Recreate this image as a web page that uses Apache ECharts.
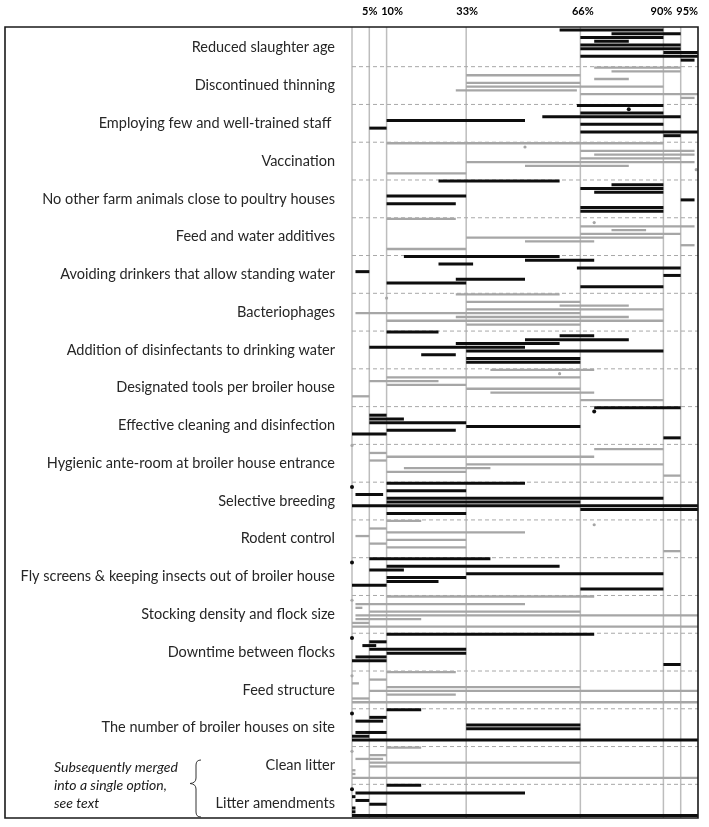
<!DOCTYPE html>
<html><head><meta charset="utf-8">
<script src="https://cdn.jsdelivr.net/npm/echarts@6/dist/echarts.min.js"></script>
<style>html,body{margin:0;padding:0;background:#fff}#c{width:709px;height:827px}</style>
</head><body><div id="c"></div>
<script>
// ---- data ----
const categories = [
  'Reduced slaughter age',
  'Discontinued thinning',
  'Employing few and well-trained staff ',
  'Vaccination',
  'No other farm animals close to poultry houses',
  'Feed and water additives',
  'Avoiding drinkers that allow standing water',
  'Bacteriophages',
  'Addition of disinfectants to drinking water',
  'Designated tools per broiler house',
  'Effective cleaning and disinfection',
  'Hygienic ante-room at broiler house entrance',
  'Selective breeding',
  'Rodent control',
  'Fly screens & keeping insects out of broiler house',
  'Stocking density and flock size',
  'Downtime between flocks',
  'Feed structure',
  'The number of broiler houses on site',
  'Clean litter',
  'Litter amendments'
];
// one [low, high] range (in %) per expert; low === high is a point estimate
const reducedSlaughterAge   = [[60,90],[75,95],[66,90],[70,80],[66,95],[66,95],[90,100],[66,100],[95,99]];
const discontinuedThinning  = [[70,95],[75,95],[33,66],[70,80],[33,66],[33,90],[30,65],[66,100],[95,99]];
const employingStaff        = [[65,90],[80,80],[66,90],[55,95],[10,50],[66,90],[5,10],[66,100],[90,95]];
const vaccination           = [[10,90],[50,50],[66,99],[70,99],[66,95],[33,99],[50,80],[99.5,99.5],[10,33]];
const noOtherFarmAnimals    = [[25,60],[75,90],[66,90],[70,90],[10,33],[95,99],[10,30],[66,90],[66,90]];
const feedWaterAdditives    = [[10,30],[70,70],[66,99],[75,85],[66,95],[33,90],[50,70],[95,99],[10,33]];
const avoidingDrinkers      = [[15,60],[50,70],[25,35],[65,95],[1,5],[90,95],[30,50],[10,33],[66,90]];
const bacteriophages        = [[30,60],[10,10],[33,66],[60,80],[33,90],[1,66],[30,80],[10,90],[33,66]];
const disinfectantsWater    = [[10,25],[60,70],[50,80],[30,60],[5,50],[33,90],[20,30],[33,66],[33,66]];
const designatedTools       = [[40,70],[60,60],[10,66],[5,25],[10,33],[33,66],[40,70],[0,5],[66,90]];
const cleaningDisinfection  = [[70,95],[70,70],[5,10],[5,15],[5,33],[33,66],[10,30],[0,10],[90,95]];
const hygienicAnteRoom      = [[0,0],[70,90],[5,10],[10,70],[5,10],[33,90],[15,40],[10,33],[90,95]];
const selectiveBreeding     = [[10,50],[0,0],[10,33],[1,9],[10,90],[10,66],[0,100],[66,100],[10,33]];
const rodentControl         = [[10,20],[70,70],[5,10],[10,50],[1,5],[10,33],[5,10],[10,33],[90,95]];
const flyScreens            = [[5,40],[0,0],[10,60],[5,15],[33,90],[10,33],[10,25],[0,10],[66,90]];
const stockingDensity       = [[10,70],[0,0],[1,50],[1,3],[5,66],[1,100],[1,20],[0,5],[0,100]];
const downtimeBetweenFlocks = [[10,70],[0,0],[5,10],[3,7],[5,33],[10,33],[1,10],[0,10],[90,95]];
const feedStructure         = [[10,30],[0,0],[5,10],[0,2],[10,66],[5,100],[10,30],[0,5],[0,100]];
const numberOfHouses        = [[10,20],[0,0],[5,10],[1,9],[33,66],[33,66],[1,10],[0,5],[0,100]];
const cleanLitter           = [[10,20],[0,0],[5,10],[1,9],[5,66],[5,10],[0,1],[0,1],[0,100]];
const litterAmendments      = [[10,20],[0,0],[1,50],[0,1],[1,5],[5,10],[0,1],[0,1],[0,100]];

const tickValues = [5, 10, 33, 66, 90, 95];
const tickLabels = ['5%', '10%', '33%', '66%', '90%', '95%'];
const refLines   = [0, 5, 10, 33, 66, 90, 95];
const noteLines  = ['Subsequently merged', 'into a single option,', 'see text'];

// ---- layout / style (not data) ----
const rows = [reducedSlaughterAge, discontinuedThinning, employingStaff, vaccination,
  noOtherFarmAnimals, feedWaterAdditives, avoidingDrinkers, bacteriophages, disinfectantsWater,
  designatedTools, cleaningDisinfection, hygienicAnteRoom, selectiveBreeding, rodentControl,
  flyScreens, stockingDensity, downtimeBetweenFlocks, feedStructure, numberOfHouses,
  cleanLitter, litterAmendments];
const SLOTS = 10;
const SLOT_OFFSET = 0.27;
const labelShift = [0.5, 5.5, 1, 2.5, -2, 6.5];
const BLACK = '#0d0d0d', GRAY = '#a6a6a6';

const barData = [];
rows.forEach((row, r) => {
  row.forEach((rg, s) => {
    if (rg) barData.push([rg[0], rg[1], r * SLOTS + s + SLOT_OFFSET, r]);
  });
});
const sepData = [];
for (let r = 1; r < rows.length; r++) sepData.push([0, r * SLOTS]);

const braceStyle = {fill: 'none', stroke: '#333', lineWidth: 1};
const chart = echarts.init(document.getElementById('c'), null, {renderer: 'canvas'});
chart.setOption({
  animation: false,
  grid: {left: 352, right: 11, top: 28.9, bottom: 4.9, containLabel: false, outerBoundsMode: 'none'},
  xAxis: {type: 'value', min: 0, max: 100, show: false},
  yAxis: [
    {type: 'value', min: 0, max: rows.length * SLOTS, inverse: true, show: false},
    {type: 'category', data: categories, inverse: true, position: 'left',
     axisLine: {show: false}, axisTick: {show: false}, splitLine: {show: false},
     axisLabel: {margin: 17, fontFamily: 'Lato', fontSize: 14.5, color: '#262626', padding: [0, 0, 3, 0]}}
  ],
  series: [
    { // vertical reference lines + top labels
      type: 'custom', xAxisIndex: 0, yAxisIndex: 0, z: 1, silent: true,
      data: refLines.map(v => [v]),
      encode: {x: 0},
      renderItem(params, api) {
        const v = api.value(0);
        const p = api.coord([v, 0]);
        const children = [{
          type: 'line',
          shape: {x1: p[0], y1: 27, x2: p[0], y2: 818},
          style: {stroke: '#bdbdbd', lineWidth: 1.5}
        }];
        const ti = tickValues.indexOf(v);
        if (ti >= 0) {
          children.push({
            type: 'text', x: p[0] + labelShift[ti], y: 11,
            style: {text: tickLabels[ti], fill: '#000', font: 'bold 11px Lato', align: 'center', verticalAlign: 'middle'}
          });
        }
        return {type: 'group', children};
      }
    },
    { // dashed row separators
      type: 'custom', xAxisIndex: 0, yAxisIndex: 0, z: 2, silent: true,
      data: sepData, encode: {x: 0, y: 1},
      renderItem(params, api) {
        const a = api.coord([0, api.value(1)]);
        const b = api.coord([100, api.value(1)]);
        return {type: 'line', shape: {x1: a[0], y1: a[1], x2: b[0], y2: b[1]},
          style: {stroke: '#a8a8a8', lineWidth: 1, lineDash: [4, 3]}};
      }
    },
    { // expert ranges
      type: 'custom', xAxisIndex: 0, yAxisIndex: 0, z: 3, silent: true,
      data: barData, encode: {x: [0, 1], y: 2},
      renderItem(params, api) {
        const lo = api.value(0), hi = api.value(1), y = api.value(2), r = api.value(3);
        const dark = r % 2 === 0;
        const color = dark ? BLACK : GRAY;
        const a = api.coord([lo, y]), b = api.coord([hi, y]);
        if (lo === hi) {
          return {type: 'circle', shape: {cx: a[0], cy: a[1], r: dark ? 2 : 1.6}, style: {fill: color}};
        }
        return {type: 'line', shape: {x1: a[0], y1: a[1], x2: b[0], y2: b[1]},
          style: {stroke: color, lineWidth: dark ? 3 : 2.3, lineCap: 'butt'}};
      }
    }
  ],
  graphic: [
    {type: 'rect', z: 100, shape: {x: 5, y: 27, width: 693, height: 791},
     style: {fill: 'none', stroke: '#1a1a1a', lineWidth: 1.6}},
    ...noteLines.map((t, i) => ({
      type: 'text', z: 100, x: 54, y: 767 + i * 18,
      style: {text: t, font: 'italic 14px Lato', fill: '#1a1a1a', verticalAlign: 'middle'}
    })),
    {type: 'bezierCurve', z: 100, shape: {x1: 201, y1: 760, cpx1: 196, cpy1: 760, x2: 196, y2: 765}, style: braceStyle},
    {type: 'line', z: 100, shape: {x1: 196, y1: 765, x2: 196, y2: 778}, style: braceStyle},
    {type: 'bezierCurve', z: 100, shape: {x1: 196, y1: 778, cpx1: 196, cpy1: 783, x2: 190, y2: 783.5}, style: braceStyle},
    {type: 'bezierCurve', z: 100, shape: {x1: 190, y1: 783.5, cpx1: 196, cpy1: 784, x2: 196, y2: 789}, style: braceStyle},
    {type: 'line', z: 100, shape: {x1: 196, y1: 789, x2: 196, y2: 812}, style: braceStyle},
    {type: 'bezierCurve', z: 100, shape: {x1: 196, y1: 812, cpx1: 196, cpy1: 817, x2: 201, y2: 817}, style: braceStyle}
  ]
});
</script></body></html>
